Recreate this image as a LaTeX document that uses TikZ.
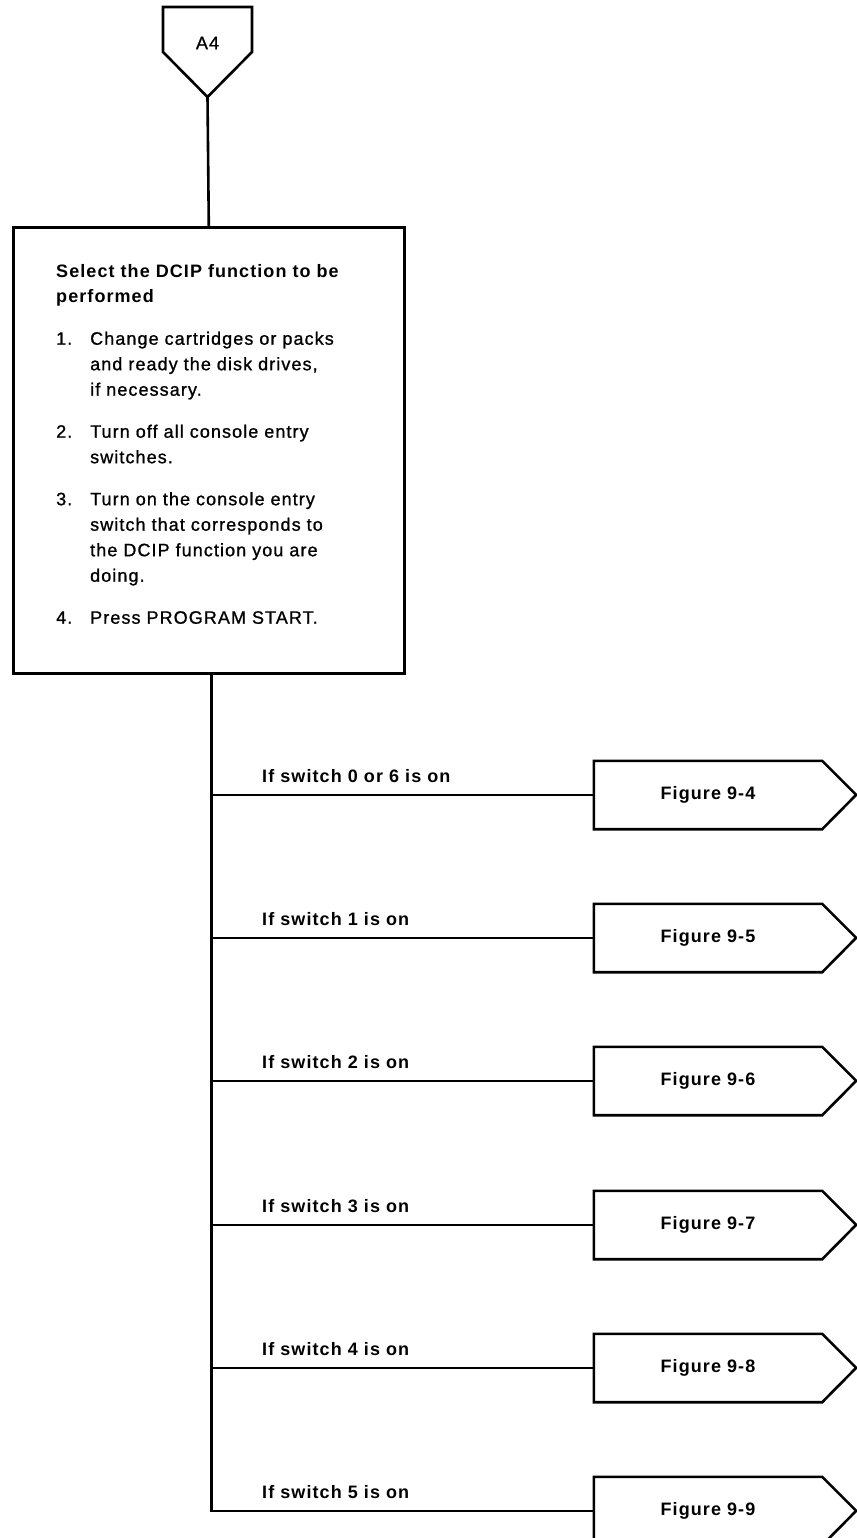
\documentclass[tikz,border=0pt]{standalone}
\usepackage{fontspec}
\setmainfont{Liberation Sans}[LetterSpace=6, UprightFeatures={FakeBold=1}]
% one numbered step with a hanging indent
\newcommand\stepitem[2]{\par\hangindent=34pt\hangafter=1\noindent\makebox[34pt][l]{#1}#2\par}
\begin{document}
\begin{tikzpicture}[x=1pt,y=-1pt,
  wire/.style={line width=2.6pt, line cap=rect},
  outline/.style={line width=2.6pt, line join=miter},
  txt/.style={font=\fontsize{18}{25.5}\selectfont, inner sep=0pt},
  figbox/.style={txt, font=\fontsize{18}{25.5}\selectfont\bfseries, minimum width=228pt, minimum height=68pt},
  cond/.style={txt, font=\fontsize{18}{25.5}\selectfont\bfseries, anchor=base west}]
\useasboundingbox (0,0) rectangle (856,1538);

% off-page connector at the top
\node[txt] (a4) at (207.5,43) {A4};
\draw[outline] (163,7) -- (252,7) -- (252,52) -- (207.5,97) -- (163,52) -- cycle;
\coordinate (a4tip) at (207.5,97);

% instruction block
\node[draw, outline, minimum width=391pt, minimum height=446pt, inner sep=0pt, anchor=north west] (box) at (12,226) {};
\node[txt, anchor=north west, text width=340pt, align=left] (steps) at (56,264) {%
  \setlength{\parskip}{16.5pt}%
  \noindent{\bfseries Select the DCIP function to be\newline performed}\par
  \stepitem{1.}{Change cartridges or packs\newline and ready the disk drives,\newline if necessary.}
  \stepitem{2.}{Turn off all console entry\newline switches.}
  \stepitem{3.}{Turn on the console entry\newline switch that corresponds to\newline the DCIP function you are\newline doing.}
  \stepitem{4.}{Press PROGRAM START.}};

\draw[wire] (a4tip) -- (box.north);

% figure connectors
\foreach \n/\y/\fig in {f4/795/9-4, f5/938/9-5, f6/1081/9-6, f7/1225/9-7, f8/1368/9-8, f9/1511/9-9}{
  \node[figbox] (\n) at (708,\y) {Figure \fig};
  \draw[outline] (\n.north west) -- (\n.north east) -- ++(34,34) -- (\n.south east) -- (\n.south west) -- cycle;
}

% branch labels
\node[cond] (c4) at (262,782) {If switch 0 or 6 is on};
\node[cond] (c5) at (262,925) {If switch 1 is on};
\node[cond] (c6) at (262,1068) {If switch 2 is on};
\node[cond] (c7) at (262,1212) {If switch 3 is on};
\node[cond] (c8) at (262,1355) {If switch 4 is on};
\node[cond] (c9) at (262,1498) {If switch 5 is on};

% trunk and branches
\coordinate (trunk) at ([xshift=2.5pt]box.south);
\draw[wire] (trunk) |- (f9.west);
\foreach \n in {f4,f5,f6,f7,f8}{
  \draw[wire] (trunk |- \n.west) -- (\n.west);
}
\end{tikzpicture}
\end{document}
